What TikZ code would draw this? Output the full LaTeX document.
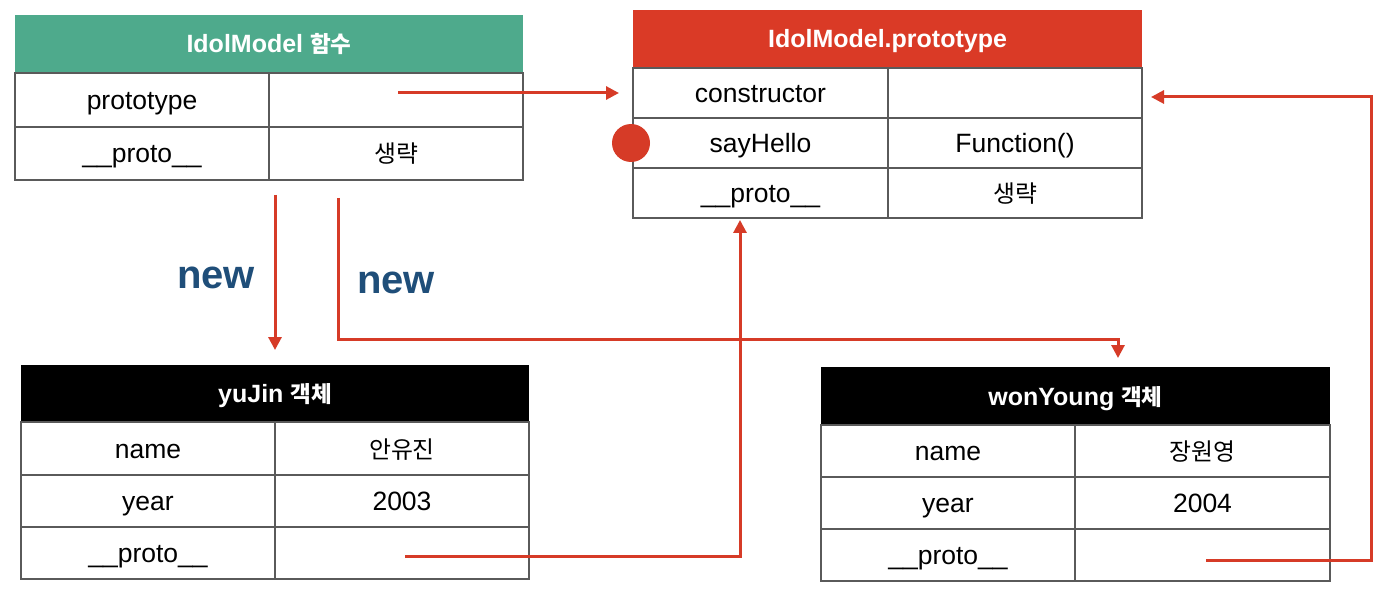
\documentclass[tikz,border=0pt]{standalone}
\usepackage{fontspec}
\setmainfont{Liberation Sans}
\newfontfamily\cjk[Scale=0.9]{Noto Sans CJK KR}
\usetikzlibrary{arrows.meta,calc}
\definecolor{hgreen}{HTML}{4EAA8C}
\definecolor{hred}{HTML}{DA3A26}
\definecolor{arrred}{HTML}{D63B27}
\definecolor{linegray}{HTML}{5A5A5A}
\definecolor{newblue}{HTML}{1F4E79}
\tikzset{
  cell/.style={draw=linegray, line width=1.2pt, minimum height=#1, anchor=north west,
    inner sep=0pt, outer sep=0pt, text height=19pt, text depth=0pt,
    font=\fontsize{26.5}{31}\selectfont},
  hdr/.style={fill=#1, draw=none, anchor=north west, inner sep=0pt, outer sep=0pt,
    text height=18pt, text depth=0pt,
    text=white, font=\fontsize{25}{30}\selectfont\bfseries},
  arr/.style={draw=arrred, line width=3pt, -{Triangle[length=13pt,width=13pt]}},
  newlbl/.style={anchor=base, text=newblue, font=\fontsize{40}{48}\selectfont\bfseries}
}
\begin{document}
\begin{tikzpicture}[x=1pt,y=-1pt]
\useasboundingbox[fill=white] (0,0) rectangle (1398,604);

% ---- Table 1: IdolModel 함수
\node[hdr=hgreen, minimum width=508pt, minimum height=58pt] (t1h) at (15,15) {IdolModel {\cjk 함수}};
\node[cell=54pt, minimum width=254pt] (t1r1a) at (15,73) {prototype};
\node[cell=54pt, minimum width=254pt] (t1r1b) at (269,73) {};
\node[cell=53pt, minimum width=254pt] (t1r2a) at (15,127) {\_\_proto\_\_};
\node[cell=53pt, minimum width=254pt] (t1r2b) at (269,127) {{\cjk 생략}};

% ---- Table 2: IdolModel.prototype
\node[hdr=hred, minimum width=509pt, minimum height=58pt] (t2h) at (633,10) {IdolModel.prototype};
\node[cell=50pt, minimum width=255pt] (t2r1a) at (633,68) {constructor};
\node[cell=50pt, minimum width=254pt] (t2r1b) at (888,68) {};
\node[cell=50pt, minimum width=255pt] (t2r2a) at (633,118) {sayHello};
\node[cell=50pt, minimum width=254pt] (t2r2b) at (888,118) {Function()};
\node[cell=50pt, minimum width=255pt] (t2r3a) at (633,168) {\_\_proto\_\_};
\node[cell=50pt, minimum width=254pt] (t2r3b) at (888,168) {{\cjk 생략}};

% ---- Table 3: yuJin 객체
\node[hdr=black, minimum width=508pt, minimum height=57pt] (t3h) at (21,365) {yuJin {\cjk 객체}};
\node[cell=53pt, minimum width=254pt] (t3r1a) at (21,422) {name};
\node[cell=53pt, minimum width=254pt] (t3r1b) at (275,422) {{\cjk 안유진}};
\node[cell=52pt, minimum width=254pt] (t3r2a) at (21,475) {year};
\node[cell=52pt, minimum width=254pt] (t3r2b) at (275,475) {2003};
\node[cell=52pt, minimum width=254pt] (t3r3a) at (21,527) {\_\_proto\_\_};
\node[cell=52pt, minimum width=254pt] (t3r3b) at (275,527) {};

% ---- Table 4: wonYoung 객체
\node[hdr=black, minimum width=509pt, minimum height=58pt] (t4h) at (821,367) {wonYoung {\cjk 객체}};
\node[cell=52pt, minimum width=254pt] (t4r1a) at (821,425) {name};
\node[cell=52pt, minimum width=255pt] (t4r1b) at (1075,425) {{\cjk 장원영}};
\node[cell=52pt, minimum width=254pt] (t4r2a) at (821,477) {year};
\node[cell=52pt, minimum width=255pt] (t4r2b) at (1075,477) {2004};
\node[cell=52pt, minimum width=254pt] (t4r3a) at (821,529) {\_\_proto\_\_};
\node[cell=52pt, minimum width=255pt] (t4r3b) at (1075,529) {};

% ---- red dot
\node[circle, fill=arrred, minimum size=38pt, inner sep=0pt] (dot) at (631,143) {};

% ---- labels
\node[newlbl] (new1) at (216,288) {new};
\node[newlbl] (new2) at (396,294) {new};

% ---- connectors
\coordinate (a1s) at (398,93);
\draw[arr, shorten >=14pt] (a1s) -- (a1s -| t2r1a.west);

\coordinate (a2s) at (275,195);
\draw[arr, shorten >=15pt] (a2s) -- (a2s |- t3h.north);

\coordinate (a3s) at (338,198);
\coordinate (a3c) at (1118,339);
\draw[arr, shorten >=9pt] (a3s) |- (a3c) -- (a3c |- t4h.north);

\coordinate (a4s) at (405,556);
\coordinate (a4c) at (740,556);
\draw[arr, shorten >=2pt] (a4s) -- (a4c) -- (a4c |- t2r3a.south);

\coordinate (a5s) at (1206,560);
\coordinate (a5c) at (1371,560);
\coordinate (a5d) at (1371,97);
\draw[arr, shorten >=9pt] (a5s) -- (a5c) -- (a5d) -- (a5d -| t2r1b.east);
\end{tikzpicture}
\end{document}
